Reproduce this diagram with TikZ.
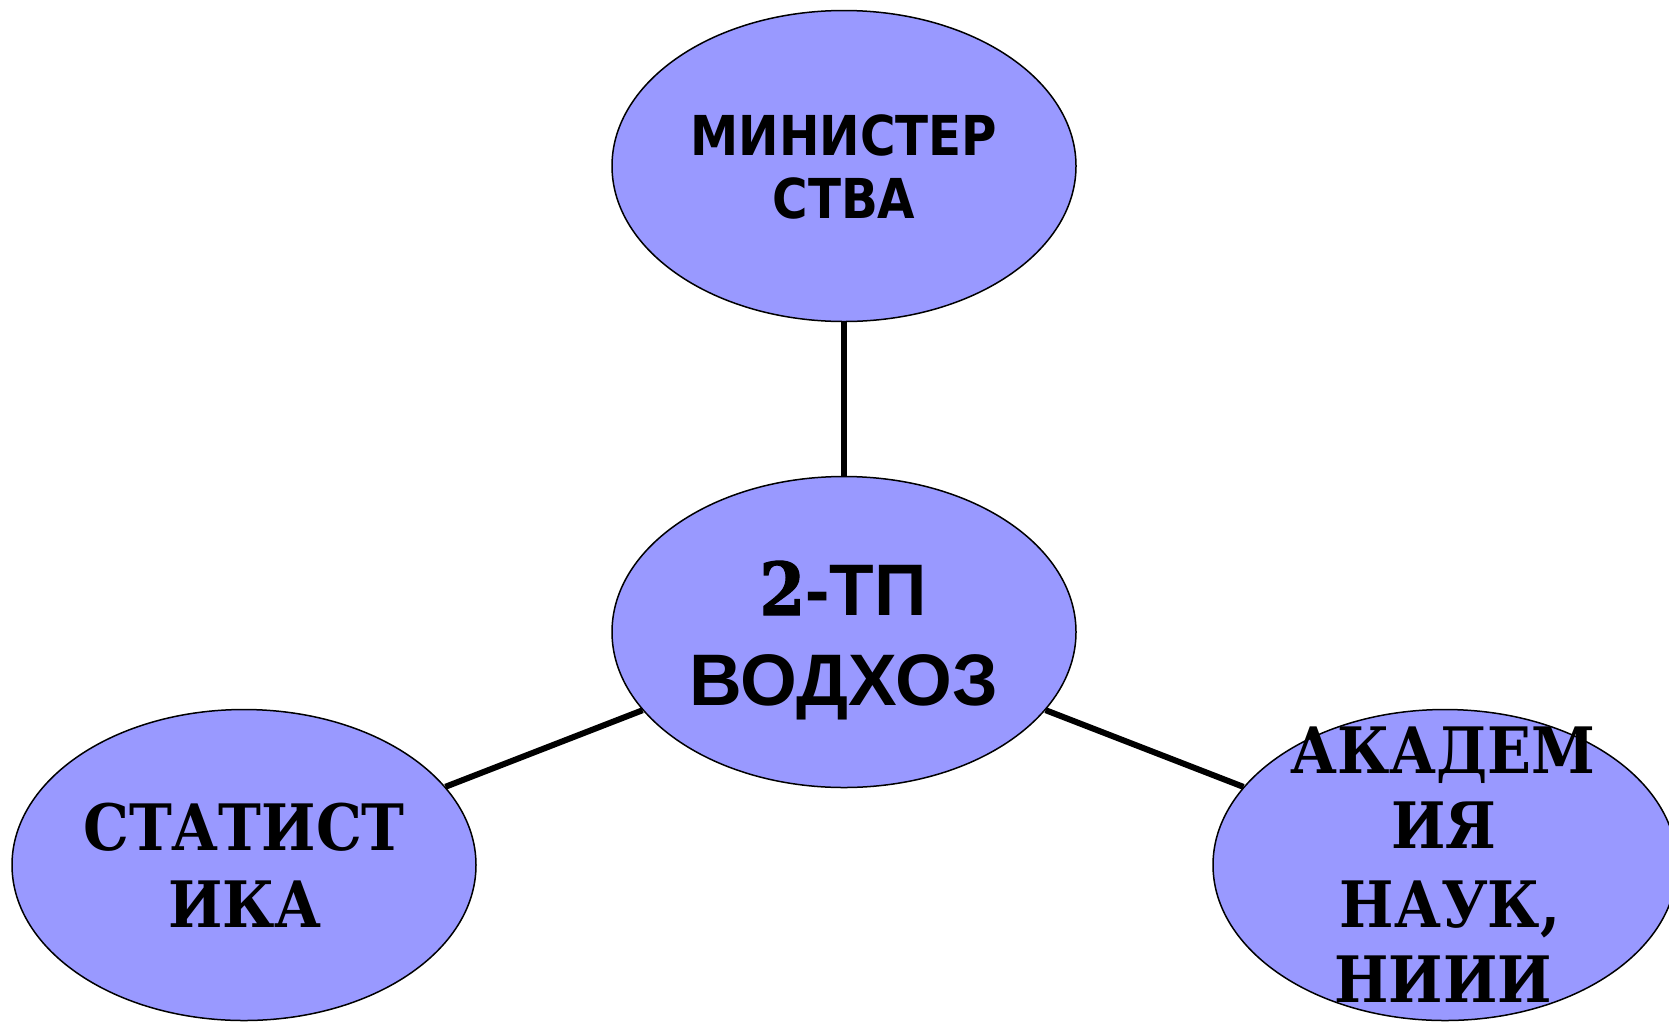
\documentclass[tikz,border=0pt]{standalone}
\usepackage{fontspec}
\usetikzlibrary{shapes.geometric}
\newfontfamily\topfont[FakeStretch=0.88]{DejaVu Sans}
\newfontfamily\midfont{Liberation Sans}
\newfontfamily\digfont[FakeStretch=0.9,BoldFeatures={FakeBold=1.5}]{DejaVu Serif}
\newfontfamily\serfont[FakeStretch=0.9]{DejaVu Serif}
\definecolor{bubble}{HTML}{9999FF}
\tikzset{
  bubble/.style={ellipse, draw=black, line width=1.5pt, fill=bubble,
    minimum width=464pt, minimum height=311pt, inner sep=0pt},
  link/.style={line width=6pt, black},
  toptxt/.style={anchor=base, inner sep=0pt, font=\topfont\bfseries\fontsize{55}{60}\selectfont},
  midtxt/.style={anchor=base, inner sep=0pt, font=\midfont\bfseries\fontsize{73}{80}\selectfont},
  sertxt/.style={anchor=base, inner sep=0pt, font=\serfont\bfseries\fontsize{64}{70}\selectfont}
}
\begin{document}
\begin{tikzpicture}[x=1pt,y=-1pt]
\useasboundingbox (0,0) rectangle (1669,1021);
\clip (0,0) rectangle (1669,1021);
\node[bubble] (top) at (844,166) {};
\node[bubble] (mid) at (844,632) {};
\node[bubble] (left) at (244,865) {};
\node[bubble] (right) at (1445,865) {};
\draw[link] (top) -- (mid);
\draw[link] (mid) -- (left);
\draw[link] (mid) -- (right);
\node[toptxt] (t1) at (844,155) {МИНИСТЕР};
\node[toptxt] (t2) at (844,218) {СТВА};
\node[midtxt] (m1) at (843,615) {{\digfont\bfseries 2}-ТП};
\node[midtxt] (m2) at (844,705) {ВОДХОЗ};
\node[sertxt] (l1) at (244,850) {СТАТИСТ};
\node[sertxt] (l2) at (245,927) {ИКА};
\node[sertxt] (r1) at (1443,773) {АКАДЕМ};
\node[sertxt] (r2) at (1444,848) {ИЯ};
\node[sertxt] (r3) at (1450,927) {НАУК,};
\node[sertxt] (r4) at (1443,1002) {НИИИ};
\end{tikzpicture}
\end{document}
